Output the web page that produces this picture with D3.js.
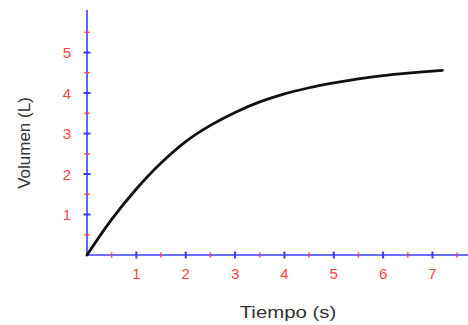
<!DOCTYPE html>
<html><head><meta charset="utf-8">
<script src="https://cdn.jsdelivr.net/npm/d3@7"></script>
<style>body{margin:0;background:#fff}svg{display:block}</style>
</head><body>
<script>
const tiempo = [0, 0.5, 1, 1.5, 2, 2.5, 3, 3.5, 4, 4.5, 5, 5.5, 6, 6.5, 7, 7.2];
const volumen = [0, 0.88, 1.63, 2.27, 2.8, 3.2, 3.52, 3.78, 3.98, 4.13, 4.25, 4.35, 4.43, 4.49, 4.54, 4.56];
const xMajor = [1, 2, 3, 4, 5, 6, 7];
const xMinor = [0.5, 1.5, 2.5, 3.5, 4.5, 5.5, 6.5, 7.5];
const yMajor = [1, 2, 3, 4, 5];
const yMinor = [0.5, 1.5, 2.5, 3.5, 4.5, 5.5];
const xTitle = "Tiempo (s)";
const yTitle = "Volumen (L)";

const W = 468, H = 325;
const FONT = "Liberation Sans, Arial, sans-serif";
const svg = d3.select("body").append("svg").attr("width", W).attr("height", H);
const x = d3.scaleLinear().domain([0, 7.72]).range([87, 468]);
const y = d3.scaleLinear().domain([0, 6.05]).range([255, 10]);

const blue = "#3c3cff", red = "#ff4444";
// axes lines
svg.append("line").attr("x1", x(0)).attr("x2", x(7.72)).attr("y1", y(0)).attr("y2", y(0))
  .attr("stroke", blue).attr("stroke-width", 1.6);
svg.append("line").attr("x1", x(0)).attr("x2", x(0)).attr("y1", y(0)).attr("y2", y(6.05))
  .attr("stroke", blue).attr("stroke-width", 1.6);

// ticks
svg.selectAll(".xmaj").data(xMajor).enter().append("line")
  .attr("x1", d => x(d)).attr("x2", d => x(d)).attr("y1", y(0) - 3.5).attr("y2", y(0) + 3.5)
  .attr("stroke", blue).attr("stroke-width", 2);
svg.selectAll(".xmin").data(xMinor).enter().append("line")
  .attr("x1", d => x(d)).attr("x2", d => x(d)).attr("y1", y(0) - 2.5).attr("y2", y(0) + 2.5)
  .attr("stroke", red).attr("stroke-width", 1.5);
svg.selectAll(".ymaj").data(yMajor).enter().append("line")
  .attr("y1", d => y(d)).attr("y2", d => y(d)).attr("x1", x(0) - 3.5).attr("x2", x(0) + 3.5)
  .attr("stroke", blue).attr("stroke-width", 2);
svg.selectAll(".ymin").data(yMinor).enter().append("line")
  .attr("y1", d => y(d)).attr("y2", d => y(d)).attr("x1", x(0) - 2.5).attr("x2", x(0) + 2.5)
  .attr("stroke", red).attr("stroke-width", 1.5);

// tick labels
svg.selectAll(".xl").data(xMajor).enter().append("text")
  .attr("x", d => x(d)).attr("y", y(0) + 24).attr("text-anchor", "middle")
  .attr("font-family", FONT).attr("font-size", 15)
  .attr("fill", red).text(d => d);
svg.selectAll(".yl").data(yMajor).enter().append("text")
  .attr("x", x(0) - 16).attr("y", d => y(d) + 5.5).attr("text-anchor", "end")
  .attr("font-family", FONT).attr("font-size", 15)
  .attr("fill", red).text(d => d);

// axis titles
svg.append("text").attr("transform", "translate(288,318) scale(1.2,1)").attr("text-anchor", "middle")
  .attr("font-family", FONT).attr("font-size", 17)
  .attr("fill", "#333").text(xTitle);
svg.append("text").attr("transform", "translate(30,143) rotate(-90)").attr("text-anchor", "middle")
  .attr("font-family", FONT).attr("font-size", 17)
  .attr("fill", "#333").text(yTitle);

// curve
const pts = tiempo.map((t, i) => [t, volumen[i]]);
svg.append("path").datum(pts)
  .attr("d", d3.line().x(d => x(d[0])).y(d => y(d[1])).curve(d3.curveCatmullRom))
  .attr("fill", "none").attr("stroke", "#111").attr("stroke-width", 2.8)
  .attr("stroke-linecap", "round");
</script>
</body></html>
